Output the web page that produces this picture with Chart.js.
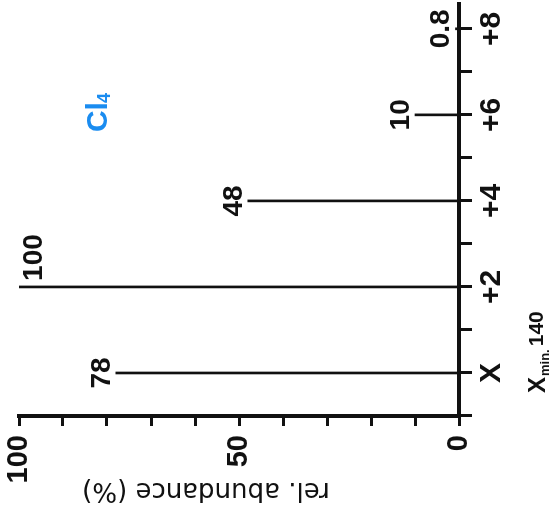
<!DOCTYPE html>
<html>
<head>
<meta charset="utf-8">
<script src="https://cdn.jsdelivr.net/npm/chart.js@4/dist/chart.umd.min.js"></script>
<style>
  html, body { margin: 0; padding: 0; background: #fff; }
  #stage { position: relative; width: 556px; height: 523px; overflow: hidden; background: #fff; }
  /* the spectrum is laid out upright, then turned a quarter turn to the left */
  #turn { position: absolute; left: 0; top: 0; width: 523px; height: 556px;
          transform-origin: 0 0; transform: translateY(523px) rotate(-90deg); }
</style>
</head>
<body>
<div id="stage"><div id="turn"><canvas id="c" width="523" height="556"></canvas></div></div>
<script>
// Isotope cluster of CCl4 (molecular ion region, X = m/z 140)
const peakOffsets = [0, 2, 4, 6, 8];            // mass offset from X
const abundances  = [78, 100, 48, 10, 0.8];     // relative abundance, %
const massTicks      = [-1, 0, 1, 2, 3, 4, 5, 6, 7, 8];
const massTickValues = [0, 2, 4, 6, 8];
const massTickText   = ['X', '+2', '+4', '+6', '+8'];
const abundanceTickValues = [0, 50, 100];
const compound = { symbol: 'Cl', count: '4' };
const massTitle = { main: 'X', sub: 'min.', tail: '140' };
const abundanceTitle = 'rel. abundance (%)';

const INK = '#111';
const BLUE = '#1a8cf0';
const NARROW = '"Liberation Sans Narrow", "Liberation Sans", Arial, sans-serif';

// figures over each bar; when the bar reaches the top of the frame the figure sits beside it
const peakLabels = {
  id: 'peakLabels',
  afterDatasetsDraw(chart) {
    const ctx = chart.ctx;
    const bars = chart.getDatasetMeta(0).data;
    ctx.save();
    ctx.font = `bold 28px ${NARROW}`;
    ctx.fillStyle = INK;
    ctx.textBaseline = 'alphabetic';
    bars.forEach((bar, i) => {
      const text = String(abundances[i]);
      if (bar.y - 28 < 0) {
        ctx.textAlign = 'left';
        ctx.fillText(text, bar.x + 6, bar.y + 23);
      } else {
        ctx.textAlign = 'center';
        ctx.fillText(text, bar.x, bar.y - 6);
      }
    });
    ctx.restore();
  }
};

// compound name, abundance-axis title and the subscripted mass-axis title
const annotations = {
  id: 'annotations',
  afterDraw(chart) {
    const ctx = chart.ctx;
    const xs = chart.scales.x, ys = chart.scales.y;
    const area = chart.chartArea;
    ctx.save();
    ctx.textBaseline = 'alphabetic';
    ctx.textAlign = 'left';

    // Cl4
    let x = xs.getPixelForValue(5.6);
    const y = ys.getPixelForValue(80);
    ctx.fillStyle = BLUE;
    ctx.font = `bold 30px ${NARROW}`;
    ctx.fillText(compound.symbol, x, y);
    x += ctx.measureText(compound.symbol).width - 1;
    ctx.font = `bold 18px ${NARROW}`;
    ctx.fillText(compound.count, x, y + 3);

    // X min. 140
    ctx.fillStyle = INK;
    let tx = xs.left + 23;
    const ty = area.bottom + 86;
    ctx.font = `bold 24px ${NARROW}`;
    ctx.fillText(massTitle.main, tx, ty);
    tx += ctx.measureText(massTitle.main).width + 1;
    ctx.font = `bold 13px ${NARROW}`;
    ctx.fillText(massTitle.sub, tx, ty + 4);
    tx += ctx.measureText(massTitle.sub).width + 3;
    ctx.font = `bold 21px ${NARROW}`;
    ctx.fillText(massTitle.tail, tx, ty - 2);

    // rel. abundance (%)
    ctx.translate(ys.left + 40, (area.top + area.bottom) / 2 - 33);
    ctx.rotate(-Math.PI / 2);
    ctx.textAlign = 'center';
    ctx.font = '26px "DejaVu Sans", sans-serif';
    ctx.fillText(abundanceTitle, 0, 0);
    ctx.restore();
  }
};

new Chart(document.getElementById('c'), {
  type: 'bar',
  data: {
    datasets: [{
      data: peakOffsets.map((m, i) => ({ x: m, y: abundances[i] })),
      backgroundColor: INK,
      borderWidth: 0,
      barThickness: 2
    }]
  },
  options: {
    responsive: false,
    animation: false,
    events: [],
    layout: { padding: { top: 19, right: 3, left: 0, bottom: 0 } },
    plugins: { legend: { display: false }, tooltip: { enabled: false } },
    scales: {
      x: {
        type: 'linear',
        min: -1,
        max: 8.6,
        offset: false,
        afterBuildTicks: s => { s.ticks = massTicks.map(v => ({ value: v })); },
        afterFit: s => { s.height = 97; s.paddingLeft = 0; s.paddingRight = 0; },
        border: { display: true, color: INK, width: 4 },
        grid: { display: true, offset: false, drawOnChartArea: false, drawTicks: true,
                tickLength: 13, tickWidth: 3, tickColor: INK, color: INK },
        ticks: {
          autoSkip: false, maxRotation: 0, minRotation: 0, padding: 2,
          color: INK,
          font: { family: NARROW, size: 30, weight: 'bold' },
          callback: v => { const k = massTickValues.indexOf(v); return k >= 0 ? massTickText[k] : ''; }
        }
      },
      y: {
        min: 0,
        max: 100,
        afterFit: s => { s.width = 107; s.paddingTop = 0; s.paddingBottom = 0; },
        border: { display: true, color: INK, width: 4 },
        grid: { display: true, drawOnChartArea: false, drawTicks: true,
                tickLength: 10, tickWidth: 3, tickColor: INK, color: INK },
        ticks: {
          stepSize: 10, autoSkip: false, padding: 9,
          color: INK,
          font: { family: NARROW, size: 29, weight: 'bold' },
          callback: v => abundanceTickValues.includes(v) ? String(v) : ''
        }
      }
    }
  },
  plugins: [peakLabels, annotations]
});
</script>
</body>
</html>
